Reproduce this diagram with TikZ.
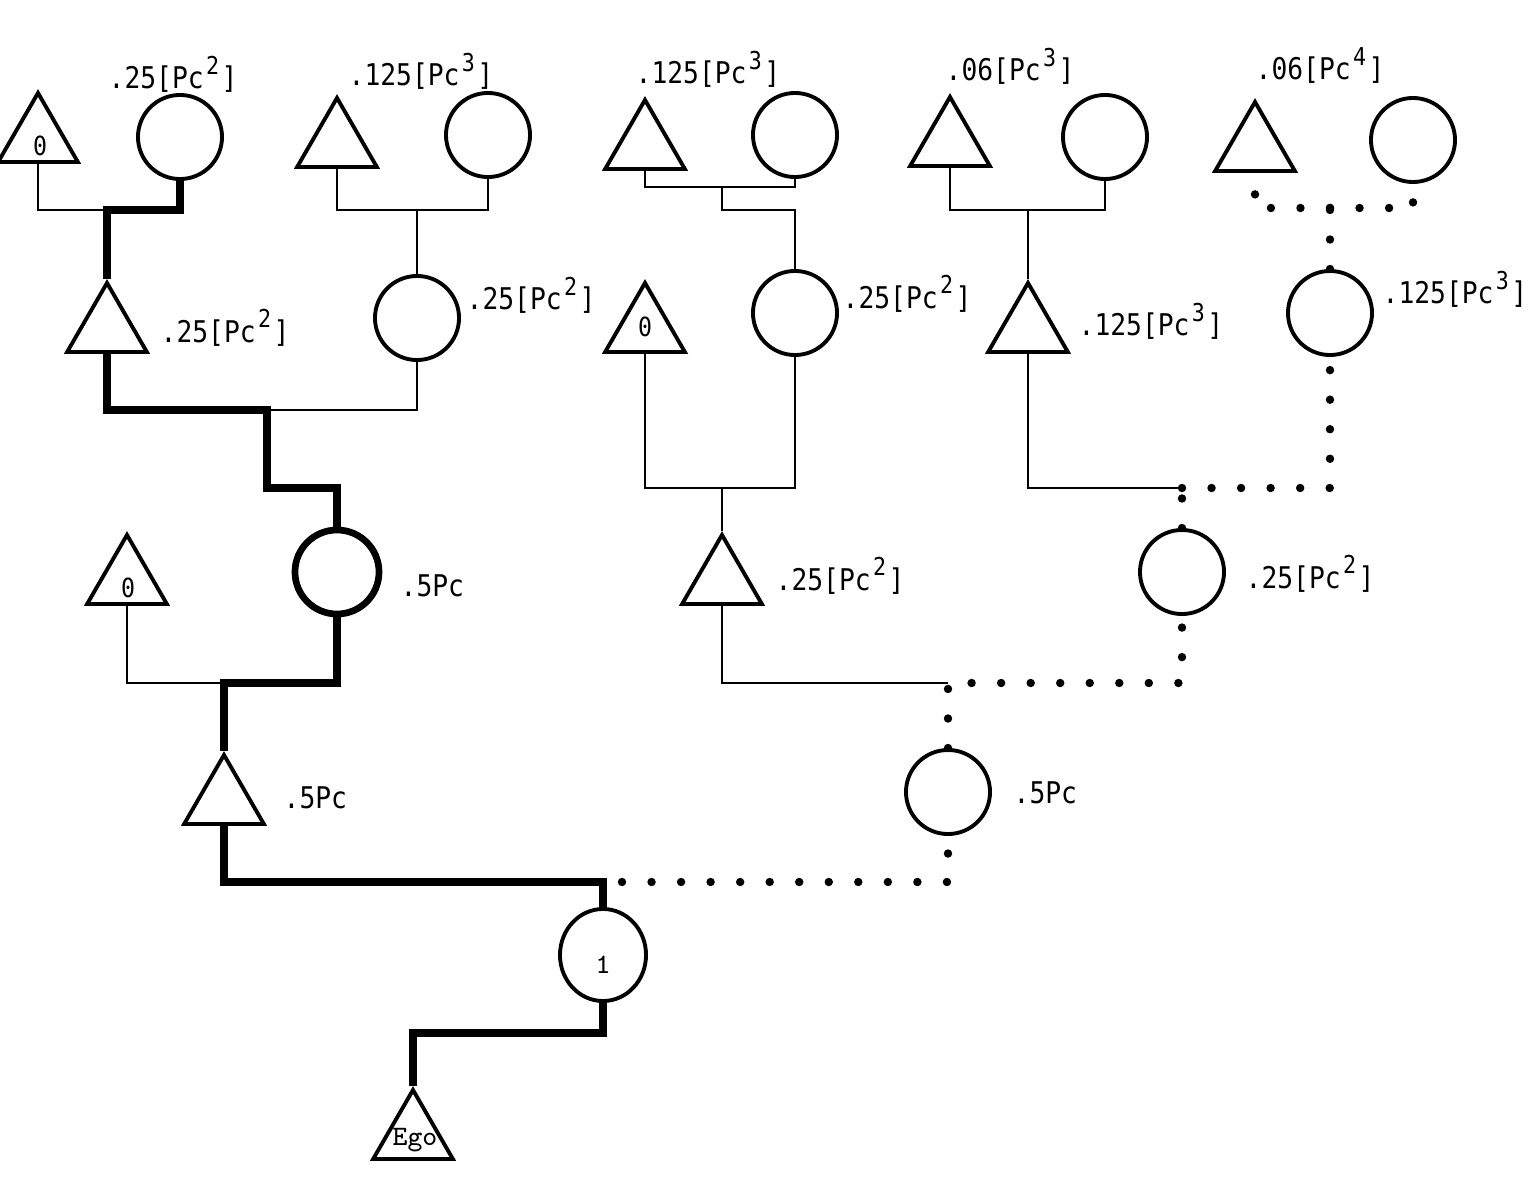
\documentclass[tikz,border=0pt]{standalone}
\usepackage{fontspec}
\usetikzlibrary{shapes.geometric}
\newfontfamily\labfont[FakeStretch=0.88]{DejaVu Sans Mono}
\newcommand\supx[1]{\hspace{0.08em}\raisebox{0.5em}{\fontsize{7pt}{8pt}\selectfont #1}\hspace{0.08em}}
\begin{document}
\begin{tikzpicture}[x=0.01cm,y=-0.01cm,
  tri/.style={draw, regular polygon, regular polygon sides=3, minimum size=0.92cm, inner sep=0pt, line width=1.1pt},
  fem/.style={draw, circle, minimum size=0.84cm, inner sep=0pt, line width=1.1pt},
  femthick/.style={fem, line width=1.9pt},
  lab/.style={anchor=base west, inner sep=0pt, font=\labfont\fontsize{8.5pt}{10pt}\selectfont},
  inlab/.style={inner sep=0pt, font=\ttfamily\fontsize{8pt}{9pt}\selectfont},
  zlab/.style={inner sep=0pt, font=\labfont\fontsize{7.5pt}{9pt}\selectfont},
  thinl/.style={line width=0.6pt},
  thickl/.style={line width=2.1pt},
  dotl/.style={line width=2.4pt, line cap=round, dash pattern=on 0pt off 8.4pt}]
\fill[white] (0,0) rectangle (1536,1182);
\useasboundingbox (0,0) rectangle (1536,1182);
% triangles
\node[tri] (T1) at (38,139) {};
\node[tri] (T2) at (107,329) {};
\node[tri] (T3) at (337,144) {};
\node[tri] (T4) at (127,581) {};
\node[tri] (T5) at (224,801) {};
\node[tri] (Ego) at (413,1136) {};
\node[tri] (T6) at (722,581) {};
\node[tri] (T7) at (645,329) {};
\node[tri] (T8) at (645,146) {};
\node[tri] (T9) at (950,143) {};
\node[tri] (T10) at (1028,329) {};
\node[tri] (T11) at (1255,148) {};
% circles
\node[fem] (C1) at (180,137) {};
\node[fem] (C2) at (488,135) {};
\node[fem] (C3) at (417,318) {};
\node[femthick] (C4) at (337,572) {};
\node[fem] (C5) at (948,792) {};
\node[fem] (C6) at (1182,572) {};
\node[fem] (C7) at (795,313) {};
\node[fem] (C8) at (795,135) {};
\node[fem] (C9) at (1105,137) {};
\node[fem] (C10) at (1330,313) {};
\node[fem] (C11) at (1413,140) {};
\node[draw, ellipse, minimum width=0.86cm, minimum height=0.92cm, inner sep=0pt, line width=1.1pt] (CE) at (603,955) {};
% inner labels
\node[zlab] (z1) at (40,146) {0};
\node[zlab] (z4) at (128,588) {0};
\node[zlab] (z7) at (645,327) {0};
\node[inlab] (one) at (603,965) {1};
\node[inlab] (egot) at (415,1140) {Ego};
% side labels
\node[lab] (l1) at (108,89) {.25[Pc\supx{2}]};
\node[lab] (l2) at (348,86) {.125[Pc\supx{3}]};
\node[lab] (l3) at (160,342) {.25[Pc\supx{2}]};
\node[lab] (l4) at (466,310) {.25[Pc\supx{2}]};
\node[lab] (l5) at (400,596) {.5Pc};
\node[lab] (l6) at (283,808) {.5Pc};
\node[lab] (l7) at (635,84) {.125[Pc\supx{3}]};
\node[lab] (l8) at (842,308) {.25[Pc\supx{2}]};
\node[lab] (l9) at (775,590) {.25[Pc\supx{2}]};
\node[lab] (l10) at (1013,803) {.5Pc};
\node[lab] (l11) at (945,81) {.06[Pc\supx{3}]};
\node[lab] (l12) at (1078,336) {.125[Pc\supx{3}]};
\node[lab] (l13) at (1255,80) {.06[Pc\supx{4}]};
\node[lab] (l14) at (1382,304) {.125[Pc\supx{3}]};
\node[lab] (l15) at (1245,588) {.25[Pc\supx{2}]};
% junction coordinates
\coordinate (j1) at (107,210);
\coordinate (j2) at (417,210);
\coordinate (j3) at (267,410);
\coordinate (j3b) at (267,488);
\coordinate (j4) at (224,683);
\coordinate (j5) at (603,882);
\coordinate (j6) at (603,1033);
\coordinate (j7) at (722,187);
\coordinate (j7b) at (722,210);
\coordinate (j8) at (722,488);
\coordinate (j9) at (1028,210);
\coordinate (j10) at (948,683);
\coordinate (j11) at (1182,488);
\coordinate (j12) at (1330,208);
\coordinate (d1) at (622,882);
% thick (ego line)
\draw[thickl] (Ego.north) |- (j6) -- (CE.south);
\draw[thickl] (CE.north) -- (j5) -| (T5.south);
\draw[thickl] (T5.north) |- (j4) -| (C4.south);
\draw[thickl] (C4.north) |- (j3b) -- (j3) -| (T2.south);
\draw[thickl] (T2.north) -- (j1) -| (C1.south);
% thin lines
\draw[thinl] (T1.south) |- (j1);
\draw[thinl] (T3.south) |- (j2) -| (C2.south);
\draw[thinl] (j2) -- (C3.north);
\draw[thinl] (C3.south) |- (j3);
\draw[thinl] (T4.south) |- (j4);
\draw[thinl] (T8.south) |- (j7) -| (C8.south);
\draw[thinl] (j7) -- (j7b) -| (C7.north);
\draw[thinl] (T7.south) |- (j8) -| (C7.south);
\draw[thinl] (j8) -- (T6.north);
\draw[thinl] (T9.south) |- (j9) -| (C9.south);
\draw[thinl] (j9) -- (T10.north);
\draw[thinl] (T6.south) |- (j10);
\draw[thinl] (T10.south) |- (j11);
% dotted lines
\draw[dotl] (d1) -| (C5.south);
\draw[dotl] (C5.north) -- (j10) -| (C6.south);
\draw[dotl] (C6.north) -- (j11);
\draw[dotl] (j11) -| (C10.south);
\draw[dotl] (C10.north) -- (j12);
\draw[dotl] (j12) -| (T11.south);
\draw[dotl] (j12) -| (C11.south);
\end{tikzpicture}
\end{document}
